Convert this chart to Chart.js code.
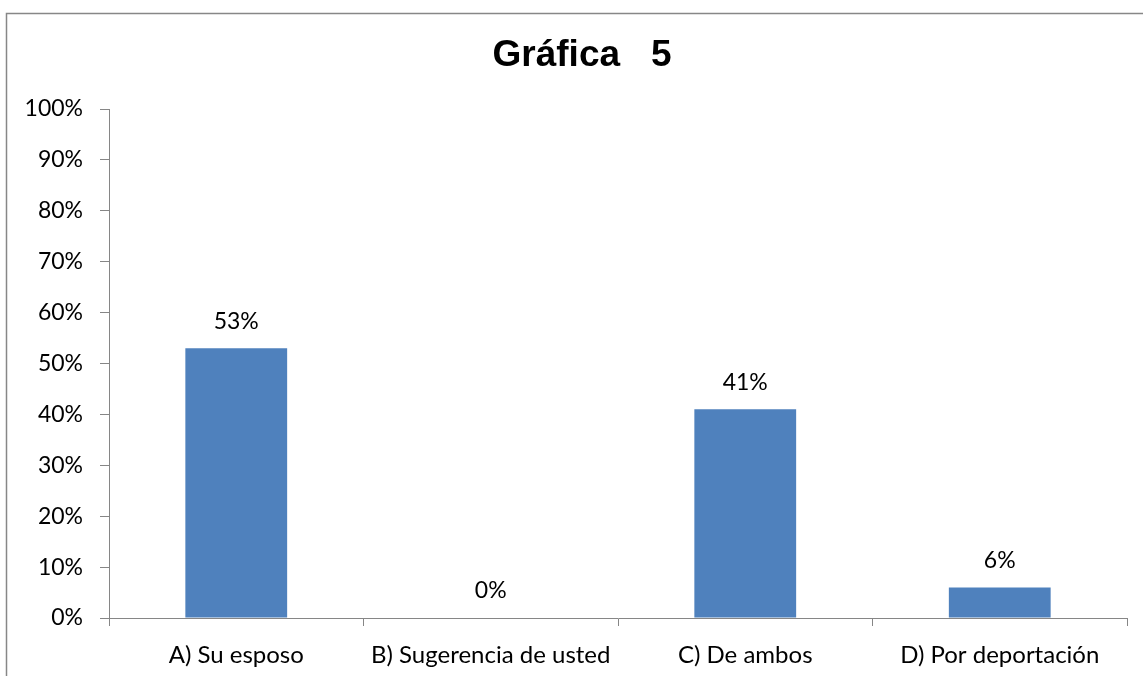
<!DOCTYPE html>
<html>
<head>
<meta charset="utf-8">
<script src="https://cdn.jsdelivr.net/npm/chart.js@4/dist/chart.umd.min.js"></script>
<style>
  html, body { margin: 0; padding: 0; background: #fff; }
  #wrap { width: 1143px; height: 676px; position: relative; }
</style>
</head>
<body>
<div id="wrap"><canvas id="chart"></canvas></div>
<script>
const categories = ['A) Su esposo', 'B) Sugerencia de usted', 'C) De ambos', 'D) Por deportación'];
const values = [53, 0, 41, 6];
const yTicks = [0, 10, 20, 30, 40, 50, 60, 70, 80, 90, 100];
const titleText = 'Gráfica   5';

const axisColor = '#868686';
const labelFont = { family: 'Lato', size: 23 };
const catFont = { family: 'Lato', size: 24 };

// frame of the chart object (cropped on right and bottom) + title
const framePlugin = {
  id: 'frame',
  beforeDraw(chart) {
    const ctx = chart.ctx;
    ctx.save();
    ctx.strokeStyle = '#878787';
    ctx.lineWidth = 1.5;
    ctx.strokeRect(6.5, 13.5, 1300, 800);
    ctx.font = 'bold 37px "Liberation Sans"';
    ctx.fillStyle = '#000';
    ctx.textAlign = 'center';
    ctx.textBaseline = 'middle';
    ctx.fillText(titleText, 582, 56);
    ctx.restore();
  }
};

// value labels above bars
const valueLabels = {
  id: 'valueLabels',
  afterDatasetsDraw(chart) {
    const ctx = chart.ctx;
    const meta = chart.getDatasetMeta(0);
    ctx.save();
    ctx.font = `${labelFont.size}px ${labelFont.family}`;
    ctx.fillStyle = '#000';
    ctx.textAlign = 'center';
    ctx.textBaseline = 'middle';
    meta.data.forEach((bar, i) => {
      ctx.fillText(values[i] + '%', bar.x, bar.y - 27);
    });
    ctx.restore();
  }
};

const ctx = document.getElementById('chart').getContext('2d');
new Chart(ctx, {
  type: 'bar',
  data: {
    labels: categories,
    datasets: [{
      data: values,
      backgroundColor: '#4F81BD',
      barPercentage: 0.4,
      categoryPercentage: 1
    }]
  },
  options: {
    responsive: true,
    maintainAspectRatio: false,
    animation: false,
    layout: { padding: { left: 0, right: 16, top: 109, bottom: 0 } },
    plugins: {
      legend: { display: false },
      tooltip: { enabled: false },
      title: { display: false }
    },
    scales: {
      x: {
        grid: {
          display: true,
          drawOnChartArea: false,
          drawTicks: true,
          tickLength: 8,
          color: axisColor,
          offset: true
        },
        border: { color: axisColor, width: 1 },
        ticks: { color: '#000', font: catFont, padding: 15, maxRotation: 0, autoSkip: false },
        afterFit(scale) { scale.height = 58; }
      },
      y: {
        min: 0,
        max: 100,
        afterBuildTicks(scale) { scale.ticks = yTicks.map(v => ({ value: v })); },
        grid: {
          display: true,
          drawOnChartArea: false,
          drawTicks: true,
          tickLength: 9,
          color: axisColor
        },
        border: { color: axisColor, width: 1 },
        ticks: {
          color: '#000',
          font: labelFont,
          padding: 17,
          callback: v => v + '%'
        },
        afterFit(scale) { scale.width = 109; }
      }
    }
  },
  plugins: [framePlugin, valueLabels]
});
</script>
</body>
</html>
